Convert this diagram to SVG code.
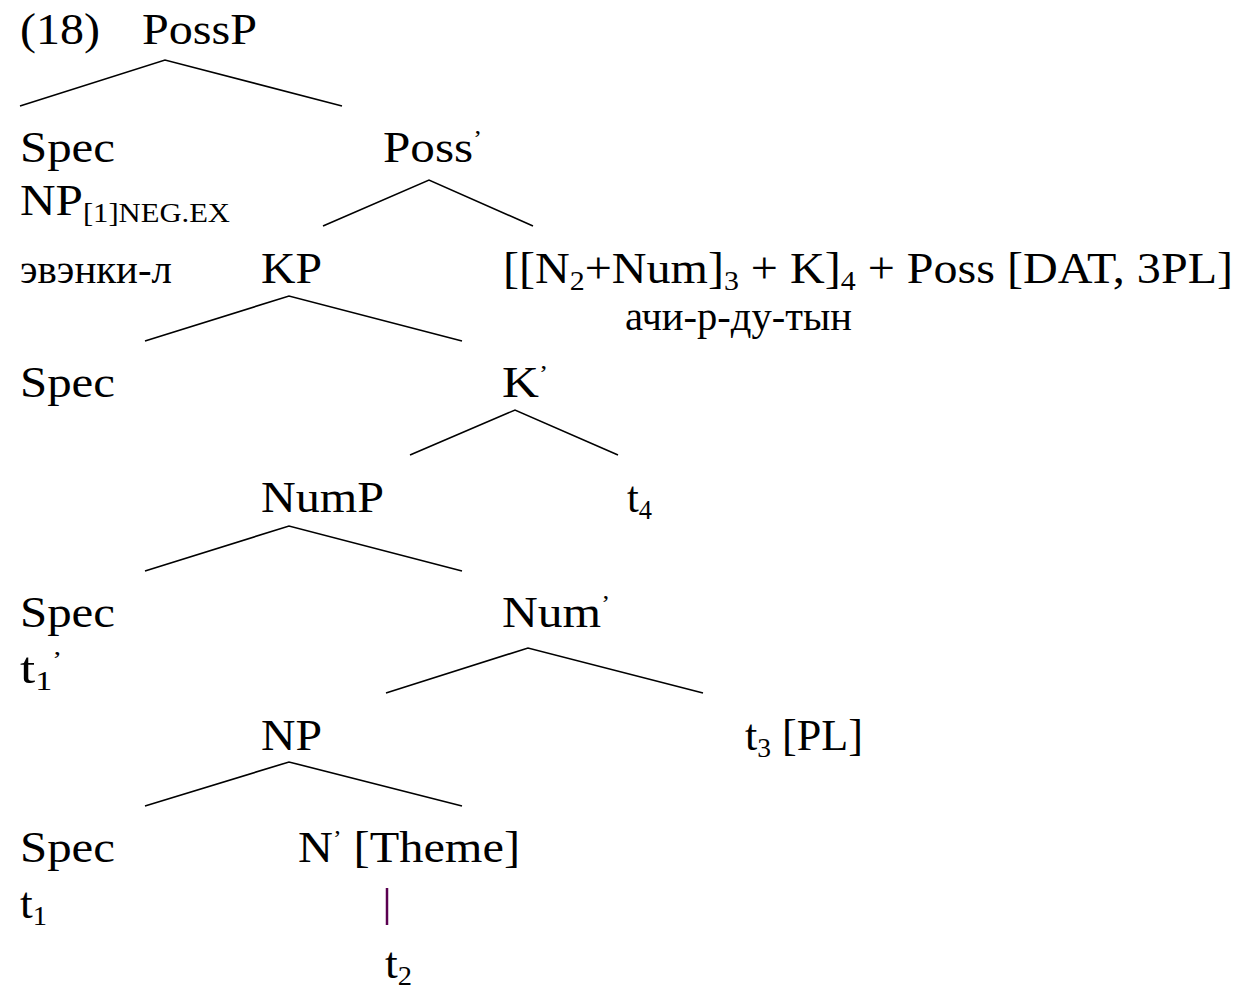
<svg xmlns="http://www.w3.org/2000/svg" width="1241" height="991" viewBox="0 0 1241 991">
  <style>
    text { font-family: "Liberation Serif", "Times New Roman", serif; font-size: 45px; fill: #000; }
    .sub { font-size: 28px; }
    .pr { font-size: 24px; }
    .cyr { font-size: 40px; }
    .branch { fill: none; stroke: #000; stroke-width: 1.6; }
  </style>
  <rect width="1241" height="991" fill="#fff"/>

  <!-- tree branches -->
  <g id="connectors">
    <polyline class="branch" points="20,106 165,60 342,106"/>
    <polyline class="branch" points="323,226 429,180 533,226"/>
    <polyline class="branch" points="145,341 289,296 462,341"/>
    <polyline class="branch" points="410,455 515,410 618,455"/>
    <polyline class="branch" points="145,571 289,526 462,571"/>
    <polyline class="branch" points="386,693 528,648 703,693"/>
    <polyline class="branch" points="145,806 289,762 462,806"/>
    <line x1="387" y1="888" x2="387" y2="925" stroke="#5a0050" stroke-width="2.5"/>
  </g>

  <g id="label"><text x="20" y="44" textLength="80" lengthAdjust="spacingAndGlyphs">(18)</text></g>
  <g id="possP"><text x="142" y="44" textLength="115" lengthAdjust="spacingAndGlyphs">PossP</text></g>

  <g id="spec-poss">
    <text x="20" y="162" textLength="95" lengthAdjust="spacingAndGlyphs">Spec</text>
    <text x="20" y="215" textLength="210" lengthAdjust="spacingAndGlyphs">NP<tspan class="sub" dy="7">[1]NEG.EX</tspan></text>
    <text class="cyr" x="20" y="283" textLength="152" lengthAdjust="spacingAndGlyphs">эвэнки-л</text>
  </g>
  <g id="poss-bar"><text x="383" y="162" textLength="99" lengthAdjust="spacingAndGlyphs">Poss<tspan class="pr" dy="-16">’</tspan></text></g>

  <g id="kp"><text x="261" y="283" textLength="61" lengthAdjust="spacingAndGlyphs">KP</text></g>
  <g id="poss-head">
    <text x="503" y="283" textLength="730" lengthAdjust="spacingAndGlyphs">[[N<tspan class="sub" dy="7">2</tspan><tspan dy="-7">+Num]</tspan><tspan class="sub" dy="7">3</tspan><tspan dy="-7"> + K]</tspan><tspan class="sub" dy="7">4</tspan><tspan dy="-7"> + Poss [DAT, 3PL]</tspan></text>
    <text class="cyr" x="625" y="330" textLength="227" lengthAdjust="spacingAndGlyphs">ачи-р-ду-тын</text>
  </g>

  <g id="spec-k"><text x="20" y="397" textLength="95" lengthAdjust="spacingAndGlyphs">Spec</text></g>
  <g id="k-bar"><text x="502" y="397" textLength="46" lengthAdjust="spacingAndGlyphs">K<tspan class="pr" dy="-16">’</tspan></text></g>

  <g id="numP"><text x="261" y="512" textLength="123" lengthAdjust="spacingAndGlyphs">NumP</text></g>
  <g id="t4"><text x="627" y="512" textLength="25" lengthAdjust="spacingAndGlyphs">t<tspan class="sub" dy="7">4</tspan></text></g>

  <g id="spec-num">
    <text x="20" y="627" textLength="95" lengthAdjust="spacingAndGlyphs">Spec</text>
    <text x="20" y="683" textLength="42" lengthAdjust="spacingAndGlyphs">t<tspan class="sub" dy="7">1</tspan><tspan class="pr" dy="-23">’</tspan></text>
  </g>
  <g id="num-bar"><text x="502" y="627" textLength="108" lengthAdjust="spacingAndGlyphs">Num<tspan class="pr" dy="-16">’</tspan></text></g>

  <g id="np"><text x="261" y="750" textLength="61" lengthAdjust="spacingAndGlyphs">NP</text></g>
  <g id="t3"><text x="745" y="750" textLength="118" lengthAdjust="spacingAndGlyphs">t<tspan class="sub" dy="7">3</tspan><tspan dy="-7"> [PL]</tspan></text></g>

  <g id="spec-n">
    <text x="20" y="862" textLength="95" lengthAdjust="spacingAndGlyphs">Spec</text>
    <text x="20" y="918" textLength="27" lengthAdjust="spacingAndGlyphs">t<tspan class="sub" dy="7">1</tspan></text>
  </g>
  <g id="n-bar"><text x="298" y="862" textLength="222" lengthAdjust="spacingAndGlyphs">N<tspan class="pr" dy="-16">’</tspan><tspan dy="16"> [Theme]</tspan></text></g>

  <g id="t2"><text x="385" y="978" textLength="27" lengthAdjust="spacingAndGlyphs">t<tspan class="sub" dy="7">2</tspan></text></g>
</svg>
